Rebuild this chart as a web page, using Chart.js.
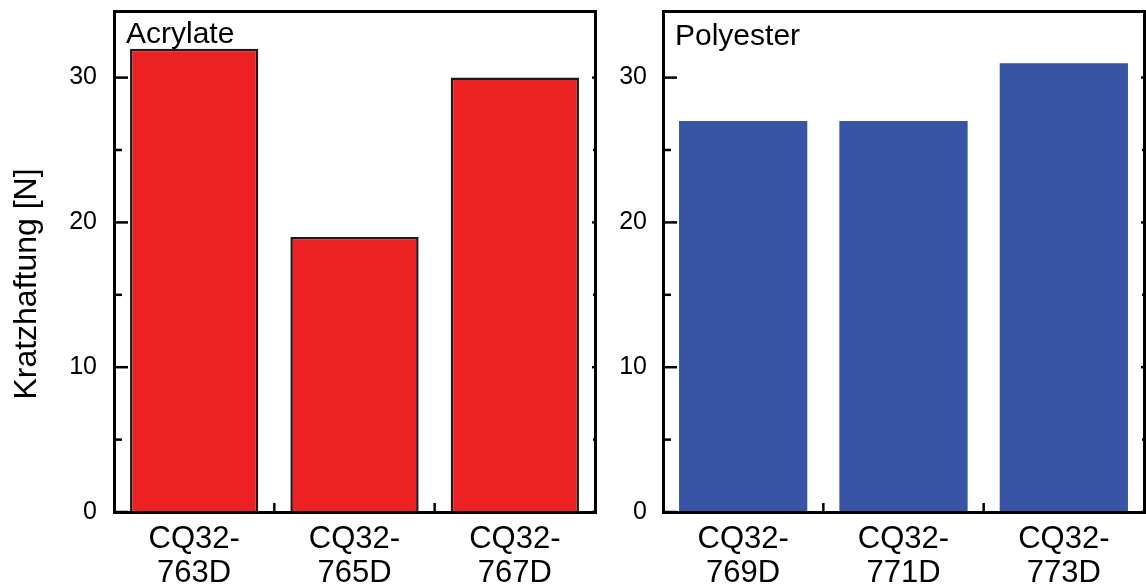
<!DOCTYPE html>
<html><head><meta charset="utf-8">
<script src="https://cdn.jsdelivr.net/npm/chart.js@4"></script>
<style>
html,body{margin:0;padding:0;background:#fff;overflow:hidden}
#c1{position:absolute;left:0;top:0}
#c2{position:absolute;left:600px;top:0}
</style>
</head><body>
<canvas id="c1" width="600" height="587"></canvas>
<canvas id="c2" width="546" height="587"></canvas>
<script>
const acrylateLabels = [["CQ32-","763D"],["CQ32-","765D"],["CQ32-","767D"]];
const acrylateValues = [32, 19, 30];
const polyesterLabels = [["CQ32-","769D"],["CQ32-","771D"],["CQ32-","773D"]];
const polyesterValues = [27, 27, 31];
const yTickValues = [0, 10, 20, 30];
const yMinorTicks = [5, 15, 25];
const yMax = 34.6;
const panelTitles = ["Acrylate", "Polyester"];
const yAxisTitle = "Kratzhaftung [N]";

const FONT = "'Liberation Sans', Arial, sans-serif";
Chart.defaults.font.family = FONT;
Chart.defaults.color = '#000';

function line(ctx, x1, y1, x2, y2){ctx.beginPath();ctx.moveTo(x1,y1);ctx.lineTo(x2,y2);ctx.stroke();}

const framePlugin = {
  id: 'frame',
  beforeDatasetsDraw(chart, args, o){
    const {ctx, chartArea:a, scales:{x, y}} = chart;
    ctx.save();
    ctx.strokeStyle = '#000';
    ctx.lineWidth = 2.5;
    yTickValues.forEach(v => {
      const p = y.getPixelForValue(v);
      line(ctx, a.left, p, a.left + 14, p);
      line(ctx, a.right, p, a.right - 3, p);
    });
    yMinorTicks.forEach(v => {
      const p = y.getPixelForValue(v);
      line(ctx, a.left, p, a.left + 8, p);
      line(ctx, a.right, p, a.right - 2, p);
    });
    const n = chart.data.labels.length;
    for (let i = 0; i < n - 1; i++) {
      const px = (x.getPixelForValue(i) + x.getPixelForValue(i + 1)) / 2;
      line(ctx, px, a.bottom, px, a.bottom - 9);
      line(ctx, px, a.top, px, a.top + 2);
    }
    ctx.restore();
  },
  afterDatasetsDraw(chart, args, o){
    const {ctx, chartArea:a} = chart;
    ctx.save();
    ctx.strokeStyle = '#000';
    ctx.lineWidth = 3;
    ctx.strokeRect(a.left + 0.5, a.top + 0.5, a.right - a.left, a.bottom - a.top);
    ctx.fillStyle = '#000';
    ctx.font = '30px ' + FONT;
    ctx.textAlign = 'left';
    ctx.textBaseline = 'alphabetic';
    ctx.fillText(o.title, a.left + 12, o.titleBaseline);
    if (o.yTitle) {
      ctx.translate(27, 284);
      ctx.rotate(-Math.PI / 2);
      ctx.textAlign = 'center';
      ctx.textBaseline = 'middle';
      ctx.font = '32px ' + FONT;
      ctx.fillText(o.yTitle, 0, 0);
    }
    ctx.restore();
  }
};

function makeChart(id, labels, values, cfg){
  return new Chart(document.getElementById(id), {
    type: 'bar',
    data: {
      labels: labels,
      datasets: [{
        data: values,
        backgroundColor: cfg.color,
        borderColor: cfg.borderColor,
        borderWidth: cfg.borderWidth,
        borderSkipped: 'start',
        barPercentage: 0.8,
        categoryPercentage: 1
      }]
    },
    options: {
      responsive: false,
      maintainAspectRatio: false,
      animation: false,
      layout: {padding: {top: 11, right: cfg.padRight, left: 0, bottom: 0}},
      plugins: {
        legend: {display: false},
        tooltip: {enabled: false},
        frame: {title: cfg.title, titleBaseline: cfg.titleBaseline, yTitle: cfg.yTitle}
      },
      scales: {
        x: {
          grid: {display: false, drawTicks: false},
          border: {display: false},
          ticks: {font: {size: 31, lineHeight: 1.1}, color: '#000', padding: 10, maxRotation: 0, autoSkip: false},
          afterFit(s){ s.height = 75; s.paddingLeft = 0; s.paddingRight = 0; }
        },
        y: {
          min: 0, max: yMax,
          grid: {display: false, drawTicks: false},
          border: {display: false},
          ticks: {font: {size: 25}, color: '#000', padding: cfg.tickPad},
          afterBuildTicks(s){ s.ticks = yTickValues.map(v => ({value: v})); },
          afterFit(s){ s.width = cfg.yWidth; s.paddingTop = 0; s.paddingBottom = 0; }
        }
      }
    },
    plugins: [framePlugin]
  });
}

makeChart('c1', acrylateLabels, acrylateValues, {
  color: '#ED2024', borderColor: '#1E1A1A', borderWidth: 2.5,
  padRight: 5, yWidth: 114, tickPad: 17,
  title: panelTitles[0], titleBaseline: 42.5, yTitle: yAxisTitle
});
makeChart('c2', polyesterLabels, polyesterValues, {
  color: '#3953A5', borderColor: '#3953A5', borderWidth: 0,
  padRight: 2, yWidth: 63, tickPad: 16,
  title: panelTitles[1], titleBaseline: 45, yTitle: null
});
</script>
</body></html>
